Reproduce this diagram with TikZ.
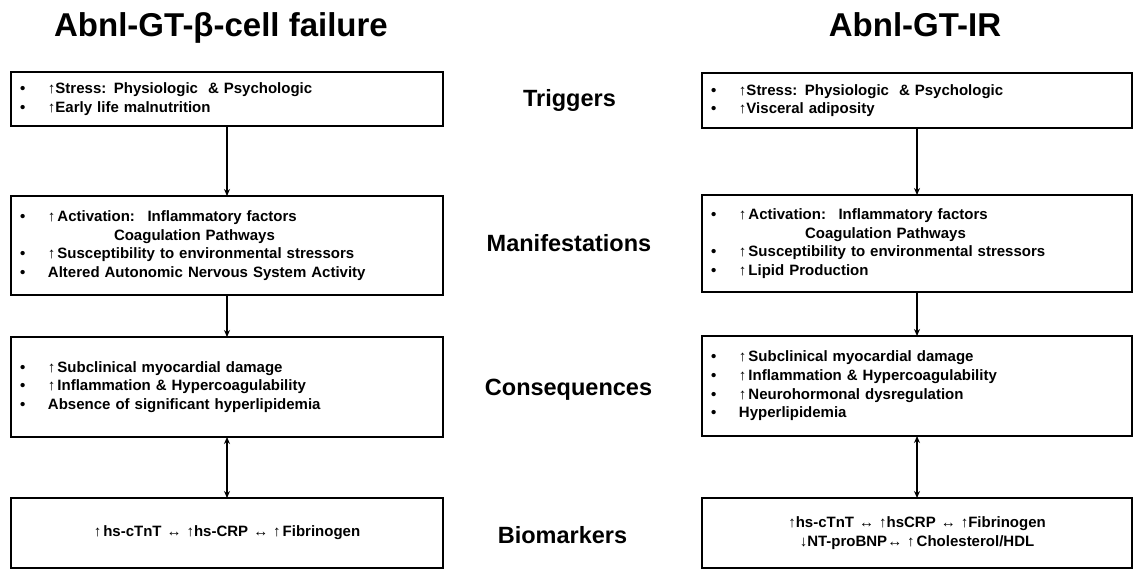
\documentclass[tikz,border=0pt]{standalone}
\usepackage{fontspec}
\setmainfont{Liberation Sans}
\usetikzlibrary{arrows.meta}
\newcommand\bulit{\makebox[28pt][l]{•}}
\newcommand\contind{\hspace*{94pt}}
\begin{document}
\begin{tikzpicture}[x=1pt,y=-1pt,
  box/.style={draw, line width=2.4pt, rectangle, outer sep=0pt, inner xsep=9pt, inner ysep=0pt,
    anchor=north west, align=left,
    font={\fontsize{15}{18.6}\selectfont\bfseries\spaceskip=5.8pt plus 1pt\relax}},
  cbox/.style={box, align=center},
  title/.style={anchor=base, font=\fontsize{33}{37}\selectfont\bfseries},
  stage/.style={anchor=base, font=\fontsize{23.5}{26}\selectfont\bfseries},
  flow/.style={line width=1.5pt, -{Stealth[length=7pt,width=6pt]}},
  both/.style={line width=1.5pt, {Stealth[length=7pt,width=6pt]}-{Stealth[length=7pt,width=6pt]}}
]
\useasboundingbox[fill=white] (0,0) rectangle (1135,570);

% titles
\node[title] (tl) at (221,36.7) {Abnl-GT-β-cell failure};
\node[title] (tr) at (915,36.5) {Abnl-GT-IR};

% stage labels
\node[stage] (s1) at (569.5,106.7) {Triggers};
\node[stage] (s2) at (569,251.7) {Manifestations};
\node[stage] (s3) at (568.5,395) {Consequences};
\node[stage] (s4) at (562.5,543) {Biomarkers};

% left column
\node[box, minimum width=432, minimum height=54, text width=414] (l1) at (11,72)
  {\bulit↑Stress: Physiologic \ \& Psychologic\\
   \bulit↑Early life malnutrition};
\node[box, minimum width=432, minimum height=99, text width=414] (l2) at (11,196)
  {\bulit↑\hspace{2pt}Activation: \ Inflammatory factors\\
   \contind Coagulation Pathways\\
   \bulit↑\hspace{2pt}Susceptibility to environmental stressors\\
   \bulit Altered Autonomic Nervous System Activity};
\node[box, minimum width=432, minimum height=100, text width=414] (l3) at (11,337)
  {\bulit↑\hspace{2pt}Subclinical myocardial damage\\
   \bulit↑\hspace{2pt}Inflammation \& Hypercoagulability\\
   \bulit Absence of significant hyperlipidemia};
\node[cbox, minimum width=432, minimum height=70, text width=414] (l4) at (11,498)
  {↑\hspace{2pt}hs-cTnT ↔ ↑hs-CRP ↔ ↑\hspace{2pt}Fibrinogen};

% right column
\node[box, minimum width=430, minimum height=55, text width=412] (r1) at (702,73)
  {\bulit↑Stress: Physiologic \ \& Psychologic\\
   \bulit↑Visceral adiposity};
\node[box, minimum width=430, minimum height=97, text width=412] (r2) at (702,195)
  {\bulit↑\hspace{2pt}Activation: \ Inflammatory factors\\
   \contind Coagulation Pathways\\
   \bulit↑\hspace{2pt}Susceptibility to environmental stressors\\
   \bulit↑\hspace{2pt}Lipid Production};
\node[box, minimum width=430, minimum height=100, text width=412] (r3) at (702,336)
  {\bulit↑\hspace{2pt}Subclinical myocardial damage\\
   \bulit↑\hspace{2pt}Inflammation \& Hypercoagulability\\
   \bulit↑\hspace{2pt}Neurohormonal dysregulation\\
   \bulit Hyperlipidemia};
\node[cbox, minimum width=430, minimum height=70, text width=412] (r4) at (702,498)
  {↑hs-cTnT ↔ ↑hsCRP ↔ ↑Fibrinogen\\
   ↓NT-proBNP↔ ↑\hspace{2pt}Cholesterol/HDL};

% connectors
\draw[flow] (l1.south) -- (l2.north);
\draw[flow] (l2.south) -- (l3.north);
\draw[both] (l3.south) -- (l4.north);
\draw[flow] (r1.south) -- (r2.north);
\draw[flow] (r2.south) -- (r3.north);
\draw[both] (r3.south) -- (r4.north);
\end{tikzpicture}
\end{document}
